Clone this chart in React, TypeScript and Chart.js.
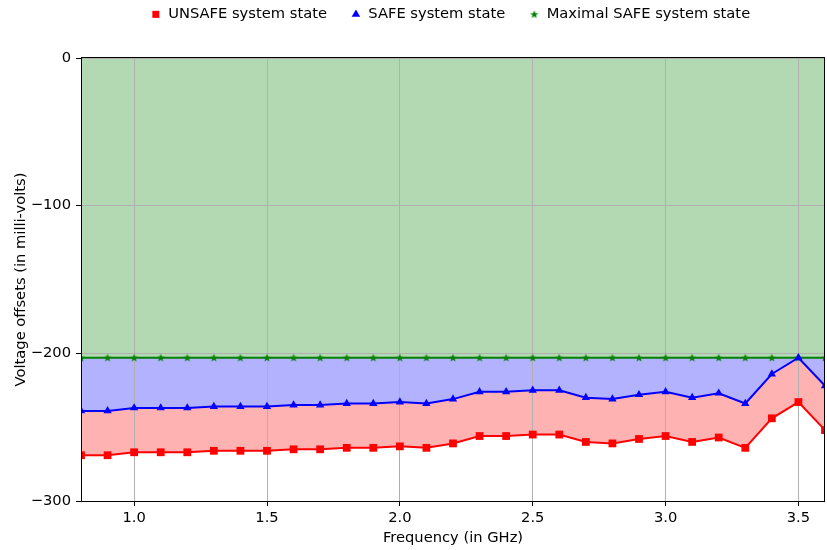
import React, { useEffect, useRef } from 'react';
import { Chart, registerables } from 'chart.js';

Chart.register(...registerables);

const FREQS = [0.8, 0.9, 1.0, 1.1, 1.2, 1.3, 1.4, 1.5, 1.6, 1.7, 1.8, 1.9, 2.0, 2.1, 2.2, 2.3, 2.4, 2.5, 2.6, 2.7, 2.8, 2.9, 3.0, 3.1, 3.2, 3.3, 3.4, 3.5, 3.6];
const UNSAFE = [-269, -269, -267, -267, -267, -266, -266, -266, -265, -265, -264, -264, -263, -264, -261, -256, -256, -255, -255, -260, -261, -258, -256, -260, -257, -264, -244, -233, -252];
const SAFE = [-239, -239, -237, -237, -237, -236, -236, -236, -235, -235, -234, -234, -233, -234, -231, -226, -226, -225, -225, -230, -231, -228, -226, -230, -227, -234, -214, -203, -222];
const MAX_SAFE = [-203, -203, -203, -203, -203, -203, -203, -203, -203, -203, -203, -203, -203, -203, -203, -203, -203, -203, -203, -203, -203, -203, -203, -203, -203, -203, -203, -203, -203];
const X_TICKS = [1.0, 1.5, 2.0, 2.5, 3.0, 3.5];
const Y_TICKS = [-300, -200, -100, 0];
const LABELS = ['UNSAFE system state', 'SAFE system state', 'Maximal SAFE system state'];

const FONT_SIZE = 14.7;

function makeStar(color: string): HTMLCanvasElement {
  const c = document.createElement('canvas');
  c.width = 10;
  c.height = 10;
  const ctx = c.getContext('2d')!;
  const cx = 5, cy = 5.3, R = 4.4, r = 1.8;
  ctx.beginPath();
  for (let i = 0; i < 10; i++) {
    const rad = (i % 2 === 0) ? R : r;
    const a = -Math.PI / 2 + (i * Math.PI) / 5;
    const px = cx + rad * Math.cos(a);
    const py = cy + rad * Math.sin(a);
    if (i === 0) ctx.moveTo(px, py); else ctx.lineTo(px, py);
  }
  ctx.closePath();
  ctx.fillStyle = color;
  ctx.fill();
  return c;
}

const pts = (ys: number[]) => ys.map((y, i) => ({ x: FREQS[i], y }));

export default function App() {
  const ref = useRef<HTMLCanvasElement>(null);
  useEffect(() => {
    document.body.style.margin = '0';
    Chart.defaults.font.family = 'DejaVu Sans';
    Chart.defaults.font.size = FONT_SIZE;
    Chart.defaults.color = '#000';
    const star = makeStar('#008000');

    const framePlugin = {
      id: 'frame',
      afterDatasetsDraw(chart: any) {
        const { ctx, chartArea } = chart;
        const l = Math.round(chartArea.left) + 0.5;
        const t = Math.round(chartArea.top) - 0.5;
        const r = Math.round(chartArea.right) - 0.5;
        const b = Math.round(chartArea.bottom) + 0.5;
        ctx.save();
        ctx.strokeStyle = '#000';
        ctx.lineWidth = 1;
        ctx.strokeRect(l, t, r - l, b - t);
        ctx.restore();
      },
    };
    const legendFix = {
      id: 'legendFix',
      beforeLayout(chart: any) {
        const lg = chart.legend;
        if (lg && !lg.__patched) {
          const f = lg.fit.bind(lg);
          lg.fit = () => {
            f();
            lg.height = 75;
            if (lg.lineWidths && lg.lineWidths.length) lg.lineWidths[0] += 5;
          };
          lg.__patched = true;
        }
      },
    };

    const gridOpts = {
      color: '#b0b0b0',
      lineWidth: 1,
      drawTicks: true,
      tickLength: 5,
      tickColor: '#000',
      tickWidth: 1,
    };

    const chart = new Chart(ref.current!, {
      type: 'line',
      data: {
        datasets: [
          {
            label: LABELS[0],
            data: pts(UNSAFE),
            borderColor: '#ff0000',
            backgroundColor: 'rgba(255,0,0,0.3)',
            pointBackgroundColor: '#ff0000',
            pointBorderColor: '#ff0000',
            pointStyle: 'rect',
            pointRadius: 5.5,
            pointBorderWidth: 0,
            borderWidth: 2,
            fill: '+1',
            clip: 0,
          },
          {
            label: LABELS[1],
            data: pts(SAFE),
            borderColor: '#0000ff',
            backgroundColor: 'rgba(0,0,255,0.3)',
            pointBackgroundColor: '#0000ff',
            pointBorderColor: '#0000ff',
            pointStyle: 'triangle',
            pointRadius: 4.8,
            pointBorderWidth: 0,
            borderWidth: 2,
            fill: '+1',
            clip: 0,
          },
          {
            label: LABELS[2],
            data: pts(MAX_SAFE),
            borderColor: '#008000',
            backgroundColor: 'rgba(0,128,0,0.3)',
            pointBackgroundColor: '#008000',
            pointBorderColor: '#008000',
            pointStyle: star as any,
            pointRadius: 5,
            pointBorderWidth: 0,
            borderWidth: 2,
            fill: 'end',
            clip: 0,
          },
        ] as any,
      },
      options: {
        responsive: false,
        animation: false,
        layout: { autoPadding: false, padding: { top: -17, right: 2, left: 0, bottom: 0 } },
        elements: { line: { tension: 0 } },
        plugins: {
          filler: { drawTime: 'beforeDraw' },
          legend: {
            position: 'top',
            fullSize: false,
            labels: {
              usePointStyle: true,
              boxWidth: 10,
              boxHeight: 7,
              padding: 24,
              color: '#000',
              font: { size: FONT_SIZE, family: 'DejaVu Sans' },
            },
          },
          tooltip: { enabled: false },
        },
        scales: {
          x: {
            type: 'linear',
            min: 0.8,
            max: 3.6,
            afterBuildTicks: (scale: any) => {
              scale.ticks = X_TICKS.map((v) => ({ value: v }));
            },
            afterFit: (scale: any) => {
              scale.height = 49;
            },
            ticks: {
              callback: (v: any) => Number(v).toFixed(1),
              padding: 3,
              maxRotation: 0,
              autoSkip: false,
              color: '#000',
              font: { size: FONT_SIZE },
            },
            grid: gridOpts,
            border: { display: false },
            title: {
              display: true,
              text: 'Frequency (in GHz)',
              color: '#000',
              font: { size: FONT_SIZE },
              padding: { top: 0, bottom: 3 },
            },
          },
          y: {
            type: 'linear',
            min: -300,
            max: 0,
            afterBuildTicks: (scale: any) => {
              scale.ticks = Y_TICKS.map((v) => ({ value: v }));
            },
            afterFit: (scale: any) => { scale.width = 81; },
            ticks: {
              callback: (v: any) => String(v).replace('-', '\u2212'),
              padding: 5,
              color: '#000',
              font: { size: FONT_SIZE },
            },
            grid: gridOpts,
            border: { display: false },
            title: {
              display: true,
              text: 'Voltage offsets (in milli-volts)',
              color: '#000',
              font: { size: FONT_SIZE },
              padding: { top: 12, bottom: 0 },
            },
          },
        },
      },
      plugins: [legendFix, framePlugin],
    } as any);

    return () => chart.destroy();
  }, []);
  return (
    <div style={{ width: 827, height: 550 }}>
      <canvas ref={ref} width={827} height={550} style={{ width: 827, height: 550, display: 'block' }} />
    </div>
  );
}
